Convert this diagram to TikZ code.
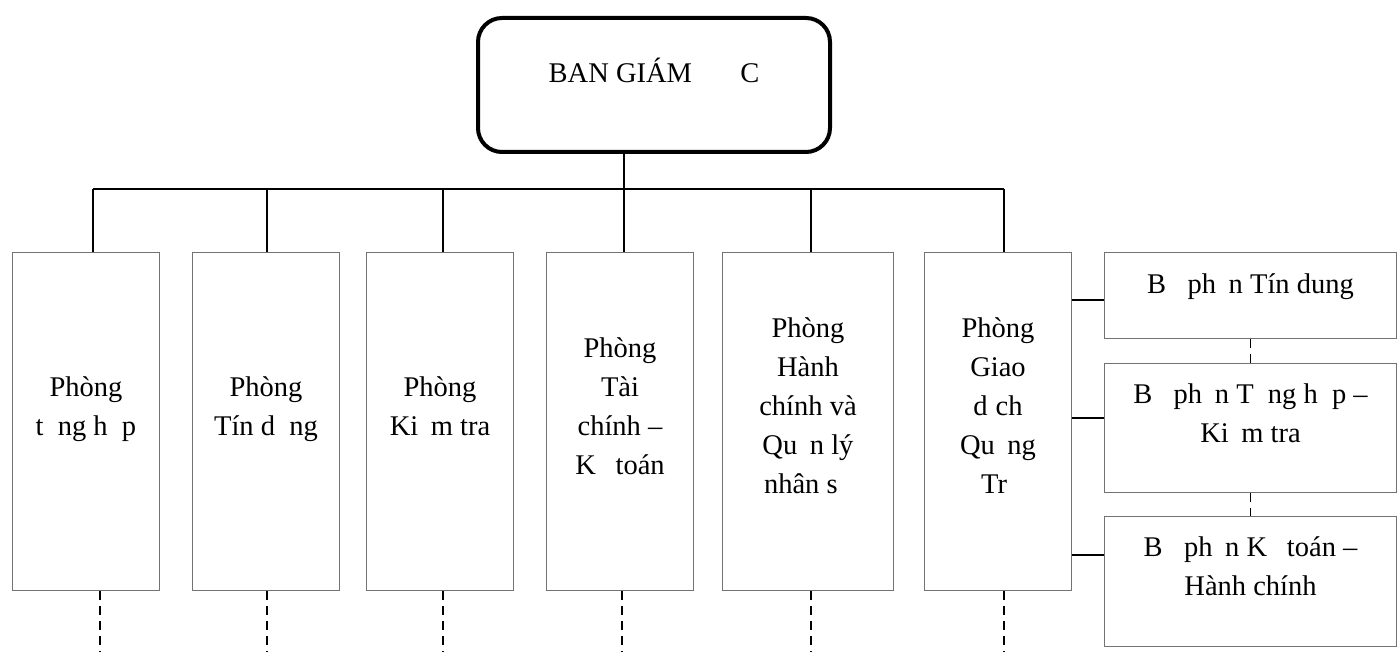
\documentclass[tikz,border=0pt]{standalone}
\usepackage{fontspec}
\setmainfont{Liberation Serif}
\newcommand\mgap[1]{\hspace{#1em}}
\newcommand\tgap[1]{\hspace{#1em}\mbox{}}
\begin{document}
\begin{tikzpicture}[x=1pt,y=1pt,
  boss/.style={draw=black, line width=4pt, rounded corners=24pt, minimum width=352pt, minimum height=134pt, inner sep=0pt},
  dept/.style={draw=black!55, line width=1pt, minimum width=147pt, minimum height=338pt, inner sep=0pt},
  sub/.style={draw=black!55, line width=1pt, minimum width=292pt, inner sep=0pt},
  txt/.style={font=\fontsize{28.5}{39}\selectfont, align=center, inner sep=0pt,
    execute at begin node=\strut, execute at end node=\strut},
  link/.style={draw=black, line width=2pt},
  dashlink/.style={draw=black, line width=1.5pt, dash pattern=on 9pt off 6pt}]
\useasboundingbox (0,0) rectangle (1398,-652);
% top box
\node[boss] (bgd) at (654,-85) {};
\node[txt] (bgdt) at (654,-75) {BAN GIÁM \mgap{1.444}C};
% departments
\node[dept] (d1) at (86,-421.5) {};
\node[dept] (d2) at (266,-421.5) {};
\node[dept] (d3) at (440,-421.5) {};
\node[dept] (d4) at (620,-421.5) {};
\node[dept, minimum width=171pt] (d5) at (808,-421.5) {};
\node[dept] (d6) at (998,-421.5) {};
\node[txt] (d1t) at (86,-411.5) {Phòng\\t\mgap{0.5}ng h\mgap{0.5}p};
\node[txt] (d2t) at (266,-411.5) {Phòng\\Tín d\mgap{0.5}ng};
\node[txt] (d3t) at (440,-411.5) {Phòng\\Ki\mgap{0.444}m tra};
\node[txt] (d4t) at (620,-411.5) {Phòng\\Tài\\chính –\\K\mgap{0.444} toán};
\node[txt] (d5t) at (808,-411.5) {Phòng\\Hành\\chính và\\Qu\mgap{0.444}n lý\\nhân s\tgap{0.5}};
\node[txt] (d6t) at (998,-411.5) {Phòng\\Giao\\d\mgap{0.278}ch\\Qu\mgap{0.444}ng\\Tr\tgap{0.278}};
% sub units
\node[sub, minimum height=86pt] (r1) at (1250.5,-295.5) {};
\node[sub, minimum height=129pt] (r2) at (1250.5,-428) {};
\node[sub, minimum height=130pt] (r3) at (1250.5,-581.5) {};
\node[txt] (r1t) at (1250.5,-286) {B\mgap{0.5} ph\mgap{0.444}n Tín dung};
\node[txt] (r2t) at (1250.5,-419) {B\mgap{0.5} ph\mgap{0.444}n T\mgap{0.5}ng h\mgap{0.5}p –\\Ki\mgap{0.444}m tra};
\node[txt] (r3t) at (1250.5,-572) {B\mgap{0.5} ph\mgap{0.444}n K\mgap{0.444} toán –\\Hành chính};
% connectors
\coordinate (bus) at (0,-189);
\coordinate (bottom) at (0,-652);
\draw[link] ([xshift=-30pt]bgd.south) -- ([xshift=4pt]d4.north);
\draw[link] ([xshift=7pt]d1.north |- bus) -- ([xshift=6pt]d6.north |- bus);
\draw[link] ([xshift=7pt]d1.north) -- ([xshift=7pt]d1.north |- bus);
\draw[link] ([xshift=1pt]d2.north) -- ([xshift=1pt]d2.north |- bus);
\draw[link] ([xshift=3pt]d3.north) -- ([xshift=3pt]d3.north |- bus);
\draw[link] ([xshift=3pt]d5.north) -- ([xshift=3pt]d5.north |- bus);
\draw[link] ([xshift=6pt]d6.north) -- ([xshift=6pt]d6.north |- bus);
\draw[dashlink] ([xshift=14pt]d1.south) -- ([xshift=14pt]d1.south |- bottom);
\draw[dashlink] ([xshift=1pt]d2.south) -- ([xshift=1pt]d2.south |- bottom);
\draw[dashlink] ([xshift=3pt]d3.south) -- ([xshift=3pt]d3.south |- bottom);
\draw[dashlink] ([xshift=2pt]d4.south) -- ([xshift=2pt]d4.south |- bottom);
\draw[dashlink] ([xshift=3pt]d5.south) -- ([xshift=3pt]d5.south |- bottom);
\draw[dashlink] ([xshift=6pt]d6.south) -- ([xshift=6pt]d6.south |- bottom);
\draw[link] ([yshift=-4.5pt]r1.west -| d6.east) -- ([yshift=-4.5pt]r1.west);
\draw[link] ([yshift=10pt]r2.west -| d6.east) -- ([yshift=10pt]r2.west);
\draw[link] ([yshift=26.5pt]r3.west -| d6.east) -- ([yshift=26.5pt]r3.west);
\draw[dashlink] (r1.south) -- (r2.north);
\draw[dashlink] (r2.south) -- (r3.north);
\end{tikzpicture}
\end{document}
